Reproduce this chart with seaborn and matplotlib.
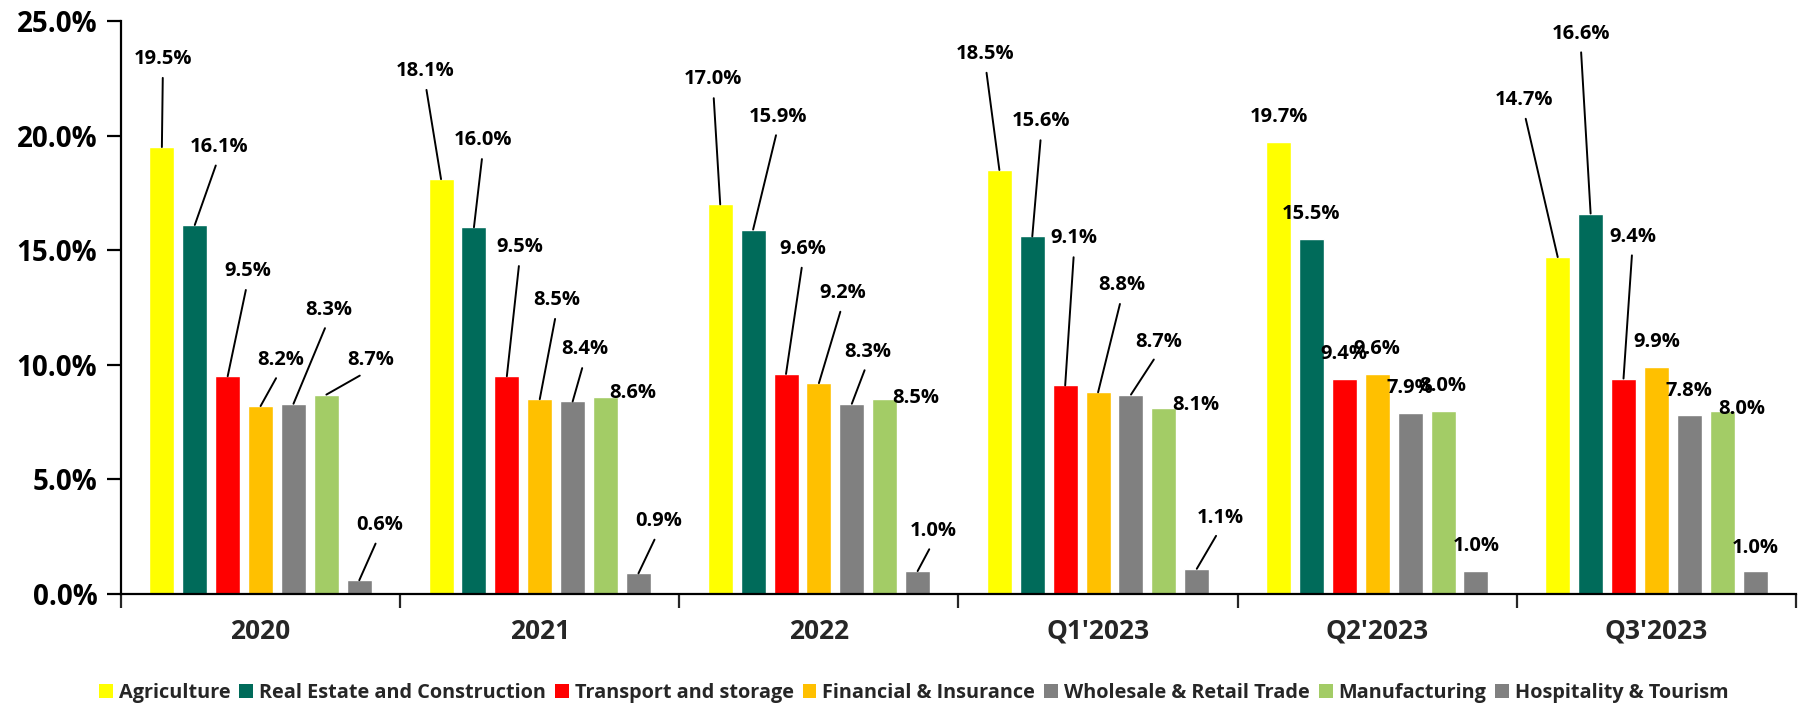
import matplotlib
matplotlib.use("Agg")
import matplotlib.pyplot as plt
from matplotlib.ticker import FixedLocator, FuncFormatter
from matplotlib.patches import Patch
import seaborn as sns
import pandas as pd

# ---------------- data ----------------
periods = ["2020", "2021", "2022", "Q1'2023", "Q2'2023", "Q3'2023"]
sectors = ["Agriculture", "Real Estate and Construction", "Transport and storage",
           "Financial & Insurance", "Wholesale & Retail Trade", "Manufacturing",
           "Hospitality & Tourism"]
agriculture = [19.5, 18.1, 17.0, 18.5, 19.7, 14.7]
real_estate = [16.1, 16.0, 15.9, 15.6, 15.5, 16.6]
transport = [9.5, 9.5, 9.6, 9.1, 9.4, 9.4]
financial = [8.2, 8.5, 9.2, 8.8, 9.6, 9.9]
wholesale = [8.3, 8.4, 8.3, 8.7, 7.9, 7.8]
manufacturing = [8.7, 8.6, 8.5, 8.1, 8.0, 8.0]
hospitality = [0.6, 0.9, 1.0, 1.1, 1.0, 1.0]
y_ticks = [0, 5, 10, 15, 20, 25]

series = [agriculture, real_estate, transport, financial, wholesale,
          manufacturing, hospitality]

# ---------------- style ----------------
colors = ["#FFFF00", "#006B5A", "#FF0000", "#FFC000", "#808080", "#A3CC66", "#808080"]

# label offsets (pixels: dx right, dy up) from each bar top, per sector, per period
label_offsets = [
    [(1, 88), (-16, 108), (-7, 125), (-14, 116), (0, 25), (-34, 157)],
    [(24, 78), (9, 87), (25, 113), (9, 115), (0, 25), (-10, 180)],
    [(20, 105), (13, 129), (17, 125), (9, 147), (0, 25), (9, 142)],
    [(20, 46), (17, 99), (24, 90), (24, 107), (0, 25), (0, 25)],
    [(35, 94), (12, 52), (16, 52), (28, 53), (0, 25), (0, 24)],
    [(44, 35), (27, 4), (31, 1), (32, 3), (0, 25), (20, 2)],
    [(20, 55), (20, 52), (16, 40), (24, 51), (0, 25), (0, 23)],
]

FONT = ["Open Sans", "DejaVu Sans"]
sns.set_theme(style="white")
plt.rcParams["font.family"] = FONT
plt.rcParams["font.weight"] = "bold"

rows = []
for s, vals in zip(sectors, series):
    for p, v in zip(periods, vals):
        rows.append({"period": p, "sector": s, "value": v})
df = pd.DataFrame(rows)

W, H = 1806, 706
fig = plt.figure(figsize=(W / 100, H / 100), dpi=100)
ax = fig.add_axes([121 / W, 1 - 594 / H, (1796 - 121) / W, (594 - 21) / H])

sns.barplot(data=df, x="period", y="value", hue="sector", hue_order=sectors,
            order=periods, palette=colors, width=0.825, gap=0.24,
            saturation=1, legend=False, ax=ax, errorbar=None)

ax.set_xlim(-0.5, len(periods) - 0.5)
ax.set_ylim(0, 25)
ax.set_xlabel("")
ax.set_ylabel("")

# y axis
ax.yaxis.set_major_locator(FixedLocator(y_ticks))
ax.yaxis.set_major_formatter(FuncFormatter(lambda v, _: f"{v:.1f}%"))
ax.tick_params(axis="y", direction="out", length=10, width=1.6, pad=7,
               labelsize=20, left=True, colors="black")
for t in ax.get_yticklabels():
    t.set_fontweight("bold")

# x axis
ax.xaxis.set_minor_locator(FixedLocator([i - 0.5 for i in range(len(periods) + 1)]))
ax.tick_params(axis="x", which="major", length=0, pad=17, labelsize=19)
ax.tick_params(axis="x", which="minor", direction="out", length=10, width=1.6,
               bottom=True)
for t in ax.get_xticklabels():
    t.set_fontweight("bold")

for side in ["top", "right"]:
    ax.spines[side].set_visible(False)
for side in ["left", "bottom"]:
    ax.spines[side].set_color("black")
    ax.spines[side].set_linewidth(1.6)

# data labels with leader lines
for si, cont in enumerate(ax.containers):
    for pi, bar in enumerate(cont):
        x = bar.get_x() + bar.get_width() / 2
        y = bar.get_height()
        dx, dy = label_offsets[si][pi]
        txt = f"{series[si][pi]:.1f}%"
        arrow = None
        if dy > 30:
            arrow = dict(arrowstyle="-", color="black", lw=1.4,
                         shrinkA=4, shrinkB=0, relpos=(0.5, 0.0))
        ax.annotate(txt, xy=(x, y), xytext=(dx, dy), textcoords="offset pixels",
                    ha="center", va="center", fontsize=14.5, fontweight="bold",
                    color="black", arrowprops=arrow, annotation_clip=False)

handles = [Patch(facecolor=c, edgecolor="none") for c in colors]
fig.legend(handles, sectors, loc="center", bbox_to_anchor=(0.506, 0.019),
           ncol=7, frameon=False, handlelength=0.7,
           handleheight=0.7, handletextpad=0.3, columnspacing=0.45,
           prop={"weight": "bold", "size": 14.3})

fig.savefig("out.png", dpi=100)
